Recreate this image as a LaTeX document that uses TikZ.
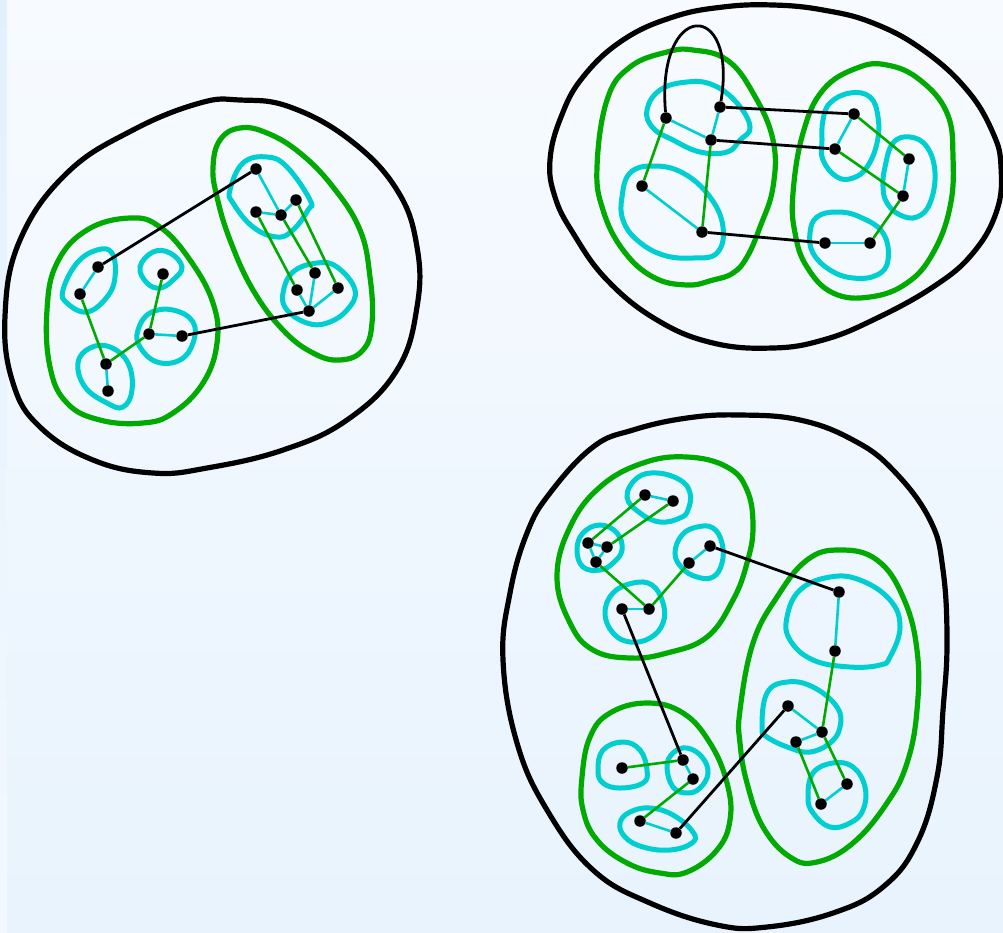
\documentclass[tikz,border=0pt]{standalone}
\usepackage{tikz}

\definecolor{bgtop}{RGB}{247,251,255}
\definecolor{bgbot}{RGB}{232,243,253}
\definecolor{striptop}{RGB}{226,240,253}
\definecolor{stripbot}{RGB}{243,249,255}
\definecolor{blobcyan}{RGB}{0,206,209}
\definecolor{clustgreen}{RGB}{0,170,0}

\begin{document}
\begin{tikzpicture}[x=1pt, y=-1pt,
    vertex/.style={circle, fill=black, inner sep=0pt, minimum size=11.5pt},
    outer/.style={line width=5.2pt, black},
    cluster/.style={line width=5.2pt, clustgreen},
    blob/.style={line width=5pt, blobcyan},
    cyanedge/.style={line width=2.6pt, blobcyan},
    greenedge/.style={line width=2.6pt, clustgreen},
    blackedge/.style={line width=2.8pt, black}]

    % Background
    \useasboundingbox (0,0) rectangle (1003,932);
    \shade[top color=bgtop, bottom color=bgbot] (0,0) rectangle (1003,932);
    \shade[top color=striptop, bottom color=stripbot] (0,0) rectangle (7,932);

    % ---------- Left component ----------
    \draw[outer] plot[smooth cycle, tension=0.7] coordinates {(5,316) (20,240) (67,173) (133,130) (200,103) (240,100) (290,107) (350,140) (397,190) (417,247) (417,307) (397,370) (347,420) (283,450) (207,468) (153,473) (93,460) (40,427) (13,383)};
    \draw[cluster] plot[smooth cycle, tension=0.7] coordinates {(213,167) (220,140) (240,128) (267,133) (300,153) (333,187) (360,230) (370,277) (372,323) (363,350) (340,360) (313,353) (283,330) (253,290) (230,240) (217,197)};
    \draw[cluster] plot[smooth cycle, tension=0.7] coordinates {(47,310) (57,263) (87,230) (130,218) (160,227) (190,260) (213,303) (217,343) (203,383) (173,413) (143,423) (100,420) (67,403) (50,367)};
    \draw[blob] plot[smooth cycle, tension=0.7] coordinates {(230,190) (243,163) (267,157) (287,167) (310,200) (308,210) (293,230) (277,237) (253,227) (233,203)};
    \draw[blob] plot[smooth cycle, tension=0.7] coordinates {(283,293) (293,272) (317,263) (337,267) (355,290) (347,310) (327,323) (307,323) (287,310)};
    \draw[blob] plot[smooth cycle, tension=0.7] coordinates {(63,290) (77,263) (97,250) (112,253) (115,277) (107,297) (87,312) (67,303)};
    \draw[blob] plot[smooth cycle, tension=0.7] coordinates {(140,267) (153,252) (170,253) (182,267) (173,280) (160,288) (147,283)};
    \draw[blob] plot[smooth cycle, tension=0.7] coordinates {(138,330) (150,313) (173,310) (193,322) (193,343) (180,360) (157,362) (140,347)};
    \draw[blob] plot[smooth cycle, tension=0.7] coordinates {(78,363) (90,348) (110,347) (128,363) (132,390) (123,407) (107,403) (85,387)};

    \node[vertex] (a1) at (256,169) {};
    \node[vertex] (a2) at (256,212) {};
    \node[vertex] (a3) at (281,215) {};
    \node[vertex] (a4) at (296,200) {};
    \node[vertex] (a5) at (315,273) {};
    \node[vertex] (a6) at (297,290) {};
    \node[vertex] (a7) at (338,288) {};
    \node[vertex] (a8) at (309,311) {};
    \node[vertex] (b1) at (98,267) {};
    \node[vertex] (b2) at (80,294) {};
    \node[vertex] (b3) at (163,274) {};
    \node[vertex] (b4) at (149,334) {};
    \node[vertex] (b5) at (182,336) {};
    \node[vertex] (b6) at (106,364) {};
    \node[vertex] (b7) at (108,391) {};

    \draw[cyanedge] (a1) -- (a3);
    \draw[cyanedge] (a2) -- (a3);
    \draw[cyanedge] (a3) -- (a4);
    \draw[cyanedge] (a5) -- (a8);
    \draw[cyanedge] (a6) -- (a8);
    \draw[cyanedge] (a7) -- (a8);
    \draw[cyanedge] (b1) -- (b2);
    \draw[cyanedge] (b4) -- (b5);
    \draw[cyanedge] (b6) -- (b7);
    \draw[greenedge] (a2) -- (a6);
    \draw[greenedge] (a3) -- (a5);
    \draw[greenedge] (a4) -- (a7);
    \draw[greenedge] (b2) -- (b6);
    \draw[greenedge] (b6) -- (b4);
    \draw[greenedge] (b4) -- (b3);
    \draw[blackedge] (b1) -- (a1);
    \draw[blackedge] (b5) -- (a8);

    % ---------- Top right component ----------
    \draw[outer] plot[smooth cycle, tension=0.7] coordinates {(550,160) (561,117) (583,77) (623,40) (673,17) (723,7) (773,5) (823,10) (873,23) (923,50) (967,90) (993,133) (1001,167) (997,210) (973,253) (933,287) (873,320) (823,340) (773,348) (713,343) (657,320) (607,280) (573,233) (555,197)};
    \draw[cluster] plot[smooth cycle, tension=0.7] coordinates {(597,167) (607,100) (630,67) (667,52) (693,50) (727,60) (753,93) (773,140) (773,187) (760,227) (747,257) (733,273) (713,280) (687,285) (653,277) (623,250) (603,210)};
    \draw[cluster] plot[smooth cycle, tension=0.7] coordinates {(793,193) (803,133) (823,90) (857,68) (887,65) (920,80) (947,113) (953,157) (950,207) (933,253) (907,283) (870,297) (833,293) (807,267) (795,233)};
    \draw[blob] plot[smooth cycle, tension=0.7] coordinates {(647,110) (660,90) (687,82) (713,85) (737,103) (750,127) (740,140) (727,152) (700,152) (673,140) (653,128)};
    \draw[blob] plot[smooth cycle, tension=0.7] coordinates {(622,197) (630,173) (653,166) (683,173) (710,197) (723,227) (717,253) (693,258) (663,255) (637,240) (623,220)};
    \draw[blob] plot[smooth cycle, tension=0.7] coordinates {(823,120) (830,103) (850,93) (870,97) (878,117) (877,143) (867,167) (853,178) (837,177) (823,160) (822,140)};
    \draw[blob] plot[smooth cycle, tension=0.7] coordinates {(885,167) (893,143) (910,137) (927,147) (935,173) (930,203) (917,217) (900,215) (887,203) (883,187)};
    \draw[blob] plot[smooth cycle, tension=0.7] coordinates {(810,233) (817,217) (837,212) (860,217) (883,233) (888,260) (877,275) (853,278) (830,270) (813,253)};

    \node[vertex] (c1) at (666,118) {};
    \node[vertex] (c2) at (720,107) {};
    \node[vertex] (c3) at (711,140) {};
    \node[vertex] (c4) at (642,186) {};
    \node[vertex] (c5) at (702,232) {};
    \node[vertex] (d1) at (854,114) {};
    \node[vertex] (d2) at (835,149) {};
    \node[vertex] (d3) at (909,159) {};
    \node[vertex] (d4) at (903,196) {};
    \node[vertex] (d5) at (825,243) {};
    \node[vertex] (d6) at (870,243) {};

    \draw[cyanedge] (c1) -- (c3);
    \draw[cyanedge] (c2) -- (c3);
    \draw[cyanedge] (c4) -- (c5);
    \draw[cyanedge] (d1) -- (d2);
    \draw[cyanedge] (d3) -- (d4);
    \draw[cyanedge] (d5) -- (d6);
    \draw[greenedge] (c1) -- (c4);
    \draw[greenedge] (c3) -- (c5);
    \draw[greenedge] (d1) -- (d3);
    \draw[greenedge] (d2) -- (d4);
    \draw[greenedge] (d4) -- (d6);
    \draw[blackedge] (c2) -- (d1);
    \draw[blackedge] (c3) -- (d2);
    \draw[blackedge] (c5) -- (d5);
    \draw[blackedge] (c1) .. controls (656,0) and (738,-2) .. (c2);

    % ---------- Bottom component ----------
    \draw[outer] plot[smooth cycle, tension=0.7] coordinates {(503,660) (510,593) (527,533) (550,493) (593,447) (633,430) (687,418) (740,415) (800,420) (853,440) (893,470) (930,520) (943,570) (947,643) (943,710) (937,777) (917,843) (883,887) (833,913) (767,927) (717,925) (650,903) (593,870) (547,810) (517,743)};
    \draw[cluster] plot[smooth cycle, tension=0.7] coordinates {(557,577) (570,527) (600,487) (643,463) (687,457) (727,467) (747,490) (753,527) (747,563) (733,600) (707,637) (667,653) (630,658) (593,650) (570,623)};
    \draw[cluster] plot[smooth cycle, tension=0.7] coordinates {(740,710) (753,643) (777,597) (807,560) (840,550) (877,560) (903,597) (917,650) (917,710) (907,763) (887,803) (853,843) (817,862) (790,857) (763,827) (747,783) (740,743)};
    \draw[cluster] plot[smooth cycle, tension=0.7] coordinates {(582,777) (590,737) (610,713) (647,703) (683,713) (710,743) (727,783) (730,820) (717,850) (687,872) (660,873) (627,863) (597,840) (583,810)};
    \draw[blob] plot[smooth cycle, tension=0.7] coordinates {(627,497) (637,478) (657,473) (680,480) (690,493) (688,510) (680,518) (660,522) (640,513)};
    \draw[blob] plot[smooth cycle, tension=0.7] coordinates {(577,550) (583,533) (600,525) (617,533) (622,550) (613,563) (600,570) (583,567)};
    \draw[blob] plot[smooth cycle, tension=0.7] coordinates {(675,553) (682,535) (697,527) (713,528) (722,543) (722,563) (713,577) (697,577) (682,568)};
    \draw[blob] plot[smooth cycle, tension=0.7] coordinates {(605,613) (613,593) (633,583) (652,585) (663,603) (663,623) (650,638) (630,642) (613,633)};
    \draw[blob] plot[smooth cycle, tension=0.7] coordinates {(787,617) (800,590) (830,577) (860,580) (890,600) (900,627) (890,657) (880,665) (850,667) (813,660) (790,640)};
    \draw[blob] plot[smooth cycle, tension=0.7] coordinates {(762,727) (767,693) (787,682) (813,687) (837,707) (840,727) (830,743) (810,752) (790,748) (767,737)};
    \draw[blob] plot[smooth cycle, tension=0.7] coordinates {(808,797) (813,773) (833,763) (853,767) (865,787) (863,810) (850,823) (830,827) (813,813)};
    \draw[blob] plot[smooth cycle, tension=0.7] coordinates {(598,770) (603,750) (623,742) (640,750) (647,770) (643,783) (620,788) (603,783)};
    \draw[blob] plot[smooth cycle, tension=0.7] coordinates {(667,767) (673,753) (687,748) (702,757) (708,773) (700,788) (687,793) (673,787)};
    \draw[blob] plot[smooth cycle, tension=0.7] coordinates {(620,823) (630,812) (650,808) (673,815) (693,832) (692,843) (670,850) (643,847) (625,837)};

    \node[vertex] (e1) at (645,495) {};
    \node[vertex] (e2) at (673,501) {};
    \node[vertex] (e3) at (588,543) {};
    \node[vertex] (e4) at (607,547) {};
    \node[vertex] (e5) at (596,562) {};
    \node[vertex] (e6) at (710,546) {};
    \node[vertex] (e7) at (689,563) {};
    \node[vertex] (e8) at (622,609) {};
    \node[vertex] (e9) at (649,609) {};
    \node[vertex] (f1) at (839,592) {};
    \node[vertex] (f2) at (835,651) {};
    \node[vertex] (f3) at (788,706) {};
    \node[vertex] (f4) at (822,732) {};
    \node[vertex] (f5) at (796,742) {};
    \node[vertex] (f6) at (847,784) {};
    \node[vertex] (f7) at (821,804) {};
    \node[vertex] (g1) at (622,768) {};
    \node[vertex] (g2) at (683,760) {};
    \node[vertex] (g3) at (693,779) {};
    \node[vertex] (g4) at (640,821) {};
    \node[vertex] (g5) at (676,833) {};

    \draw[cyanedge] (e1) -- (e2);
    \draw[cyanedge] (e3) -- (e4);
    \draw[cyanedge] (e3) -- (e5);
    \draw[cyanedge] (e4) -- (e5);
    \draw[cyanedge] (e6) -- (e7);
    \draw[cyanedge] (e8) -- (e9);
    \draw[cyanedge] (f1) -- (f2);
    \draw[cyanedge] (f3) -- (f4);
    \draw[cyanedge] (f4) -- (f5);
    \draw[cyanedge] (f6) -- (f7);
    \draw[cyanedge] (g2) -- (g3);
    \draw[cyanedge] (g4) -- (g5);
    \draw[greenedge] (e3) -- (e1);
    \draw[greenedge] (e4) -- (e2);
    \draw[greenedge] (e5) -- (e9);
    \draw[greenedge] (e9) -- (e7);
    \draw[greenedge] (f2) -- (f4);
    \draw[greenedge] (f5) -- (f7);
    \draw[greenedge] (f4) -- (f6);
    \draw[greenedge] (g1) -- (g2);
    \draw[greenedge] (g3) -- (g4);
    \draw[blackedge] (e6) -- (f1);
    \draw[blackedge] (e8) -- (g2);
    \draw[blackedge] (f3) -- (g5);
\end{tikzpicture}
\end{document}
